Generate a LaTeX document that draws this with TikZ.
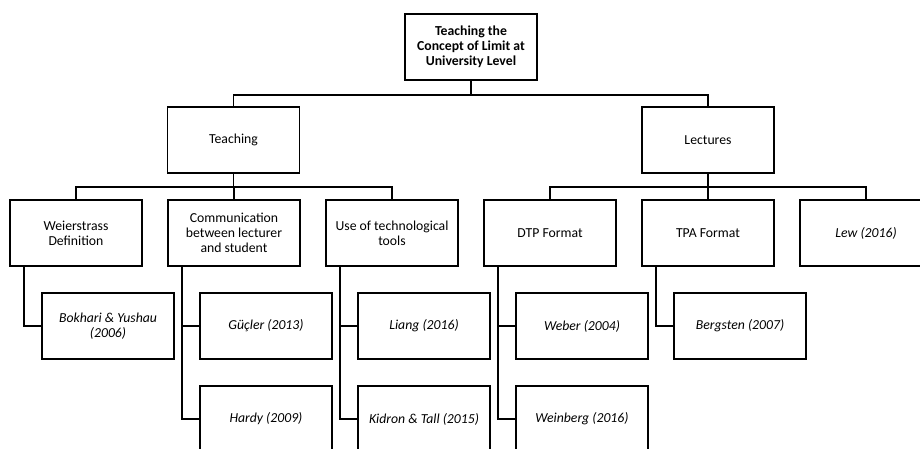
\documentclass[tikz,border=0pt]{standalone}
\usepackage{fontspec}
\setmainfont{Carlito}
\usetikzlibrary{positioning}
\tikzset{
    % --- Topic box (one entry of the tree) ---
    topic/.style = {
        rectangle, draw, line width=1.4pt,
        minimum width=99pt, minimum height=49.5pt,
        inner sep=2pt, outer sep=0pt, align=center,
        font=\fontsize{10.3}{11.3}\selectfont
    },
    % --- Title box at the root ---
    root box/.style = {
        topic, font=\fontsize{10.3}{11.3}\selectfont\bfseries
    },
    % --- Cited study (italic) ---
    study/.style = {
        topic, font=\fontsize{10.3}{11.3}\selectfont\itshape
    },
    % --- Tree connector ---
    link/.style = {
        line width=1.4pt
    }
}
\begin{document}
\begin{tikzpicture}[
    x=0.75pt, y=-0.75pt,
    node distance=20.25pt and 19.5pt
]
\useasboundingbox (0,0) rectangle (920,449);
\clip (0,0) rectangle (920,449);

% ---------------------------------------------------------
% Root
% ---------------------------------------------------------
\node[root box] (Root) at (471, 47) {Teaching the\\Concept of Limit at\\University Level};

% ---------------------------------------------------------
% Main branches
% ---------------------------------------------------------
\node[topic] (Teach) at (233.5, 140) {Teaching};
\node[topic] (Lect) at (708, 140) {Lectures};

% ---------------------------------------------------------
% Sub-topics
% ---------------------------------------------------------
\node[topic] (Weier) at (76, 233) {Weierstrass\\Definition};
\node[topic, right=of Weier] (Comm) {Communication\\between lecturer\\and student};
\node[topic, right=of Comm] (Tools) {Use of technological\\tools};
\node[topic, right=of Tools] (DTP) {DTP Format};
\node[topic, right=of DTP] (TPA) {TPA Format};
\node[study, right=of TPA] (Lew) {Lew (2016)};

% ---------------------------------------------------------
% Studies
% ---------------------------------------------------------
\node[study, below=of Weier, xshift=24pt] (Bokh) {Bokhari \& Yushau\\(2006)};
\node[study, below=of Comm, xshift=24pt] (Gucl) {Güçler (2013)};
\node[study, below=of Gucl] (Hardy) {Hardy (2009)};
\node[study, below=of Tools, xshift=24pt] (Liang) {Liang (2016)};
\node[study, below=of Liang] (Kidron) {Kidron \& Tall (2015)};
\node[study, below=of DTP, xshift=24pt] (Weber) {Weber (2004)};
\node[study, below=of Weber] (Weinb) {Weinberg (2016)};
\node[study, below=of TPA, xshift=24pt] (Bergs) {Bergsten (2007)};

% ---------------------------------------------------------
% Connectors
% ---------------------------------------------------------
\draw[link] (Root.south) -- ++(0,15) -| (Teach.north);
\draw[link] (Root.south) -- ++(0,15) -| (Lect.north);
\foreach \kid in {Weier, Comm, Tools}
    \draw[link] (Teach.south) -- ++(0,14) -| (\kid.north);
\foreach \kid in {DTP, TPA, Lew}
    \draw[link] (Lect.south) -- ++(0,14) -| (\kid.north);

\foreach \up/\kid in {Weier/Bokh, Comm/Gucl, Comm/Hardy, Tools/Liang,
                      Tools/Kidron, DTP/Weber, DTP/Weinb, TPA/Bergs}
    \draw[link] ([xshift=10.5pt]\up.south west) |- (\kid.west);

\end{tikzpicture}
\end{document}
